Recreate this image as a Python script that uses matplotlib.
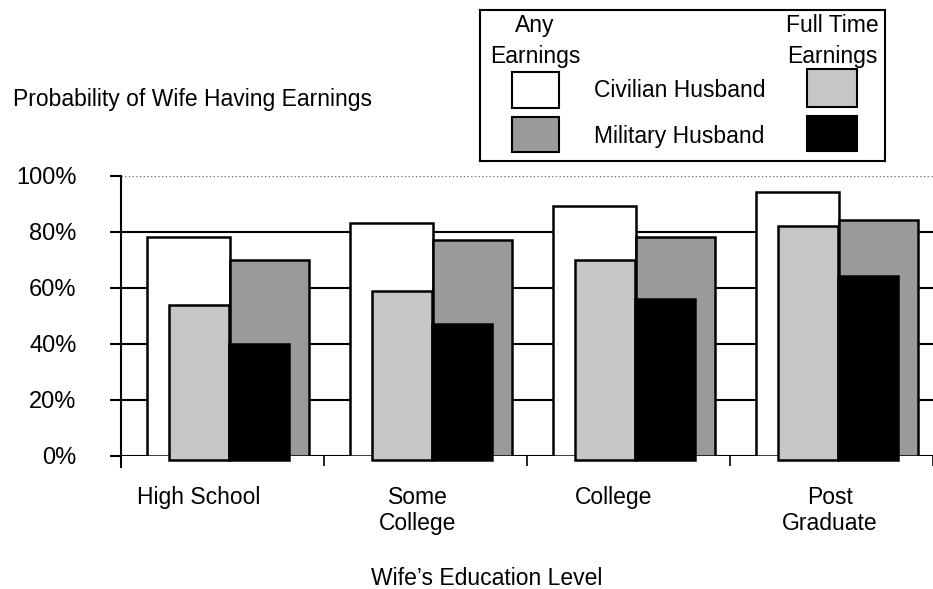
import numpy as np
import matplotlib
matplotlib.use("Agg")
import matplotlib.pyplot as plt
from matplotlib.patches import Rectangle

plt.rcParams['font.family'] = ['Liberation Sans', 'DejaVu Sans']

# data (percent of wives with earnings)
categories = ['High School', 'Some\nCollege', 'College', 'Post\nGraduate']
civ_any = [78, 83, 89, 94]   # civilian husband, any earnings
mil_any = [70, 77, 78, 84]   # military husband, any earnings
civ_ft = [54, 59, 70, 82]    # civilian husband, full time earnings
mil_ft = [40, 47, 56, 64]    # military husband, full time earnings
yticks = [0, 20, 40, 60, 80, 100]

W, H = 933, 589
dark = '#9a9a9a'
light = '#c6c6c6'
fs = 16.5

def fx(px):
    return px / W

def fy(py):
    return 1 - py / H

def main():
    fig = plt.figure(figsize=(W / 100, H / 100), dpi=100)
    ax = fig.add_axes([fx(121), fy(456), fx(933) - fx(121), fy(175.5) - fy(456)])

    x = np.arange(len(categories))
    drop = 1.4  # front row sits a little lower

    for v in yticks[1:-1]:
        ax.axhline(v, color='black', lw=1.5, zorder=1)
    ax.axhline(0, color='black', lw=1.5, zorder=1)
    ax.axhline(100, color='#777777', lw=1, ls=':', zorder=1)

    kw = dict(align='edge', edgecolor='black', linewidth=1.8)
    ax.bar(x + 0.126, civ_any, 0.413, color='white', zorder=2, **kw)
    ax.bar(x + 0.539, mil_any, 0.388, color=dark, zorder=2, **kw)
    ax.bar(x + 0.238, np.array(civ_ft) + drop, 0.296, bottom=-drop,
           color=light, zorder=3, clip_on=False, **kw)
    ax.bar(x + 0.534, np.array(mil_ft) + drop, 0.296, bottom=-drop,
           color='black', zorder=4, clip_on=False, **kw)

    ax.set_xlim(0, (933 - 121) / 206)
    ax.set_ylim(0, 100)
    for s in ax.spines.values():
        s.set_visible(False)
    ax.plot([0, 0], [-4, 100], color='black', lw=1.5, clip_on=False, zorder=5)

    ax.set_yticks(yticks)
    ax.set_yticklabels([f'{v}%' for v in yticks], fontsize=fs + 0.5)
    ax.tick_params(axis='y', direction='out', length=8, width=1.5, pad=24)
    ax.set_xticks(list(x) + [4])
    ax.set_xticklabels([])
    ax.tick_params(axis='x', direction='out', length=7, width=1.2)

    label_px = [199, 418, 614, 830]
    for lx, name in zip(label_px, categories):
        fig.text(fx(lx), fy(486), name, ha='center', va='top', fontsize=fs,
                 linespacing=1.15)

    fig.text(fx(487), fy(585), 'Wife\u2019s Education Level', ha='center',
             va='baseline', fontsize=fs)
    fig.text(fx(13), fy(106), 'Probability of Wife Having Earnings',
             ha='left', va='baseline', fontsize=fs)

    # legend box, drawn in pixel coordinates
    lg = fig.add_axes([fx(480), fy(161), fx(885) - fx(480), fy(10) - fy(161)])
    lg.set_xlim(480, 885)
    lg.set_ylim(161, 10)
    lg.set_xticks([])
    lg.set_yticks([])
    for s in lg.spines.values():
        s.set_linewidth(1.5)
    lg.text(535, 32, 'Any', ha='center', va='baseline', fontsize=fs)
    lg.text(535, 63, 'Earnings', ha='center', va='baseline', fontsize=fs)
    lg.text(832, 32, 'Full Time', ha='center', va='baseline', fontsize=fs)
    lg.text(832, 63, 'Earnings', ha='center', va='baseline', fontsize=fs)
    lg.text(594, 97, 'Civilian Husband', ha='left', va='baseline', fontsize=fs)
    lg.text(594, 143, 'Military Husband', ha='left', va='baseline', fontsize=fs)
    lg.add_patch(Rectangle((512, 72), 47, 36, fc='white', ec='black', lw=1.5))
    lg.add_patch(Rectangle((512, 117), 47, 35, fc=dark, ec='black', lw=1.5))
    lg.add_patch(Rectangle((807, 69), 50, 38, fc=light, ec='black', lw=1.5))
    lg.add_patch(Rectangle((807, 116), 50, 35, fc='black', ec='black', lw=1.5))

    fig.savefig('out.png', dpi=100)

if __name__ == "__main__":
    main()
